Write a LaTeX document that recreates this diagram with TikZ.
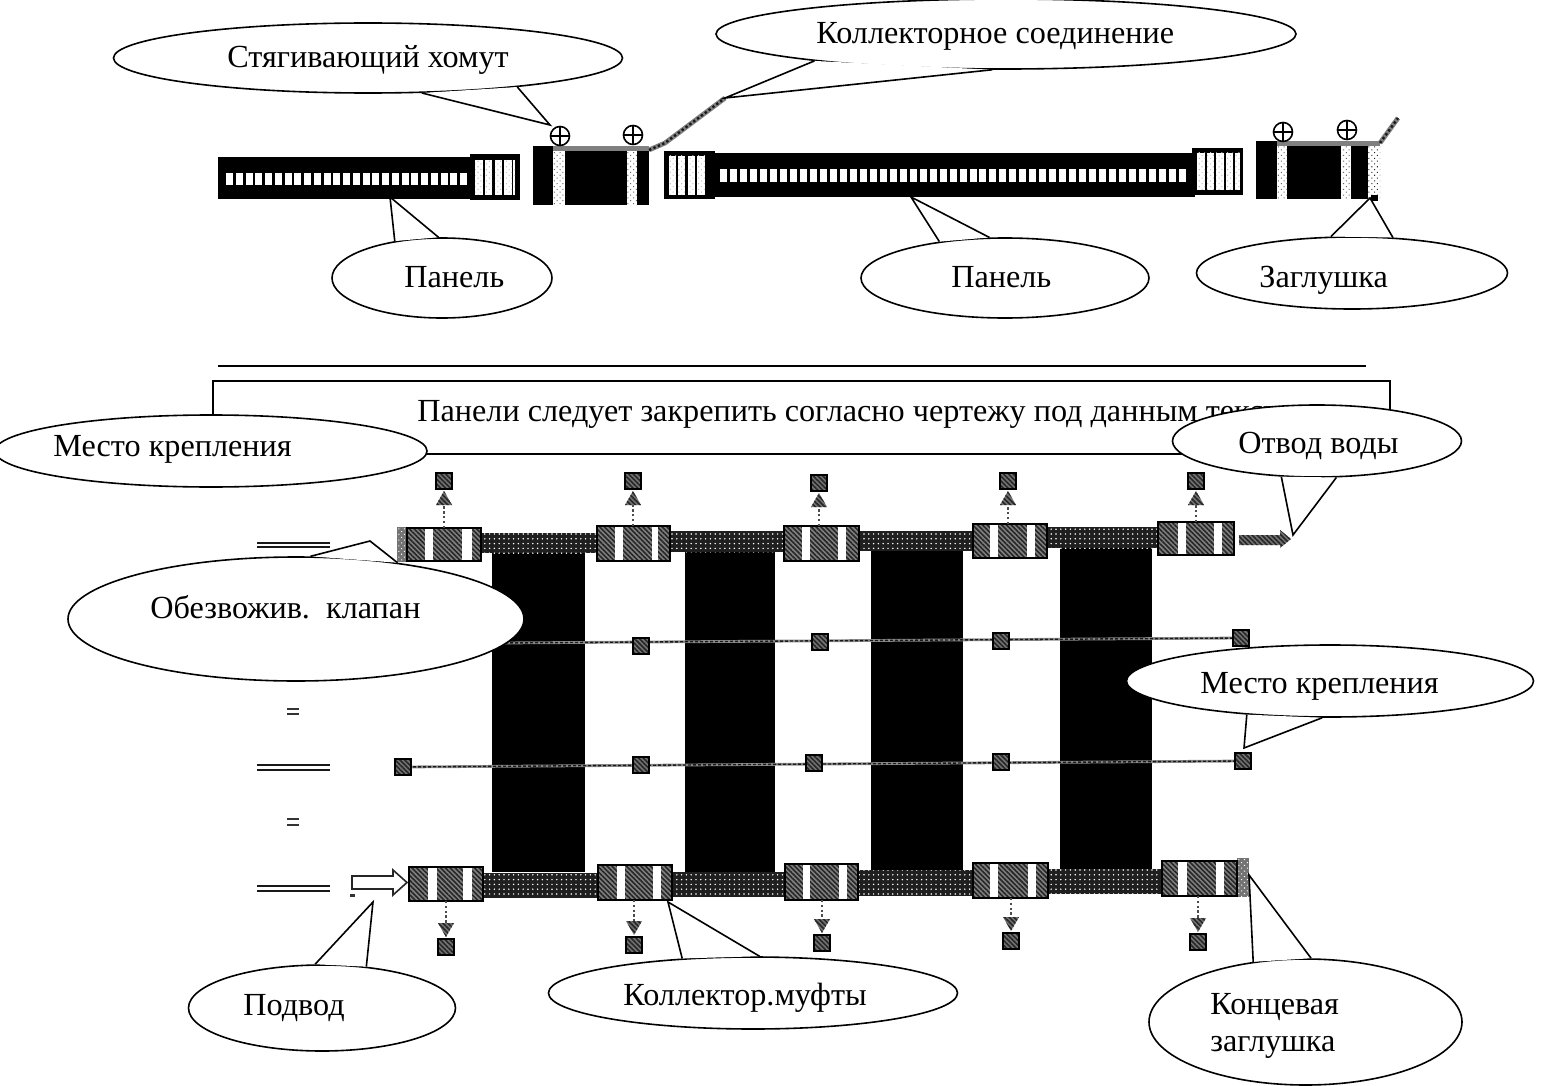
\documentclass[tikz,border=0pt]{standalone}
\usepackage{fontspec}
\setmainfont{Liberation Serif}
\usetikzlibrary{patterns.meta,shapes.geometric,calc}
\tikzset{
  txt/.style={anchor=base west,inner sep=0pt,font=\fontsize{16.1pt}{18pt}\selectfont},
  bubble/.style={draw=black,fill=white,ellipse,inner sep=0pt,line width=.8pt},
  tail/.style={line width=.8pt,line join=miter},
  hatchfill/.style={pattern={Lines[angle=-45,distance=1.7pt,line width=.8pt]},pattern color=black!85},
  pipefill/.style={pattern={Dots[distance=2.4pt,radius=.42pt]},pattern color=white},
  stipple/.style={pattern={Dots[distance=2pt,radius=.36pt,angle=45]},pattern color=black!60},
  sqbox/.style={draw=black,line width=.6pt,minimum size=8pt,inner sep=0pt,
    path picture={\fill[black!55] (path picture bounding box.south west) rectangle (path picture bounding box.north east);
      \fill[hatchfill] (path picture bounding box.south west) rectangle (path picture bounding box.north east);}},
  crossline/.style={line width=1.4pt,draw=black!45},
  crosswave/.style={line width=.7pt,draw=black!90,dash pattern=on 1.6pt off .9pt},
  hose/.style={line width=2.4pt,draw=black!50},
  hosewave/.style={line width=1.2pt,draw=black!90,dash pattern=on 1.2pt off 1.2pt},
  thinrule/.style={line width=.55pt,draw=black},
  dimline/.style={line width=1.2pt,draw=black!90},
  dashconn/.style={line width=.6pt,draw=black!70,dash pattern=on 1.2pt off 1.2pt},
  screw/.style={draw=black,line width=.8pt,fill=white,circle,minimum size=9.5pt,inner sep=0pt},
}
% name, centre, width, height, tip, angle 1, angle 2
\newcommand{\bubblecall}[7]{%
  \node[bubble,minimum width=#3*.5pt,minimum height=#4*.5pt] (#1) at (#2) {};
  \coordinate (#1tip) at (#5);
  \fill[white] (#1.#6) -- (#1tip) -- (#1.#7) -- cycle;
  \draw[tail] (#1.#6) -- (#1tip) -- (#1.#7);
}
% x1 x2 y1 y2 bars
\newcommand{\clampbox}[8]{%
  \fill[black!50] (#1,#3) rectangle (#2,#4);
  \fill[hatchfill] (#1,#3) rectangle (#2,#4);
  \fill[white] (#5,#3+1) rectangle (#6,#4-1);
  \fill[white] (#7,#3+1) rectangle (#8,#4-1);
  \draw[line width=.6pt] (#1,#3) rectangle (#2,#4);
}
\newcommand{\pipeseg}[4]{%
  \fill[black!88] (#1,#3) rectangle (#2,#4);
  \fill[pipefill] (#1,#3) rectangle (#2,#4);
}
\newcommand{\whitebars}[3]{%
  \foreach \a/\b in {#3} {\fill[white] (\a,#1) rectangle (\b,#2);\fill[stipple,pattern color=black!25] (\a,#1) rectangle (\b,#2);}
}
\newcommand{\screwhead}[3]{%
  \node[screw] (#1) at (#2,#3) {};
  \draw[line width=.7pt] (#1.west) -- (#1.east) (#1.north) -- (#1.south);
}
\begin{document}
\begin{tikzpicture}[x=.5pt,y=-.5pt]
\useasboundingbox (0,0) rectangle (1543,1086);
\fill[white] (0,0) rectangle (1543,1086);

% --- upper drawing: left panel
\fill[black] (218,157) rectangle (472,199);
\fill[black] (470,154) rectangle (520,200);
\foreach \i in {0,...,24} {\fill[white] ({226+\i*9.75},173) rectangle ({233+\i*9.75},185);}
\whitebars{160}{195}{475/483,485/492,495/502,504/512,513/515}

% --- upper drawing: first connector
\fill[black] (533,146) rectangle (649,205);
\fill[white] (553,150) rectangle (565,205);
\fill[stipple] (553,150) rectangle (565,205);
\fill[white] (627,150) rectangle (637,205);
\fill[stipple] (627,150) rectangle (637,205);
\fill[black!50] (553,146) rectangle (649,151);
\screwhead{sa}{560}{136}
\screwhead{sb}{633}{135}
\coordinate (hosea) at (649,150);
\coordinate (hoseb) at (665,143);
\coordinate (hosec) at (725,98);
\draw[hose] (hosea) -- (hoseb) -- (hosec);
\draw[hosewave] (hosea) -- (hoseb) -- (hosec);

% --- upper drawing: long panel
\fill[black] (664,151) rectangle (715,199);
\whitebars{156}{195}{669/676,678/685,688/695,697/705}
\fill[black] (708,153) rectangle (1195,197);
\foreach \i in {0,...,46} {\fill[white] ({720+\i*9.98},169.5) rectangle ({727+\i*9.98},182);}
\fill[black] (1192,148) rectangle (1243,195);
\whitebars{153}{190}{1197/1205,1207/1214,1216/1224,1226/1233,1235/1240}

% --- upper drawing: end connector
\fill[black] (1256,141) rectangle (1369,199);
\fill[white] (1277,146) rectangle (1287,199);
\fill[stipple] (1277,146) rectangle (1287,199);
\fill[white] (1341,146) rectangle (1351,199);
\fill[stipple] (1341,146) rectangle (1351,199);
\fill[white] (1368,145) rectangle (1380,199);
\fill[stipple,pattern color=black!85] (1368,145) rectangle (1380,199);
\fill[black!50] (1277,141) rectangle (1380,146);
\fill[black] (1371,195) rectangle (1378,201);
\screwhead{sc}{1283}{132}
\screwhead{sd}{1347}{130}
\coordinate (hosed) at (1380,143);
\coordinate (hosee) at (1398,118);
\draw[hose] (hosed) -- (hosee);
\draw[hosewave] (hosed) -- (hosee);

% --- rules and text frame
\coordinate (rulea) at (218,366);
\coordinate (ruleb) at (1366,366);
\draw[thinrule] (rulea) -- (ruleb);
\draw[thinrule,line width=.65pt] (213,381) rectangle (1390,454);
\node[txt] (notice) at (417,421) {Панели следует закрепить согласно чертежу под данным текстом};

% --- lower plan: black panels
\foreach \a/\b in {492/585,685/775,871/963,1060/1152} {\fill[black] (\a,548) rectangle (\b,872);}

% --- pipes
\pipeseg{481}{597}{533}{553}
\pipeseg{670}{784}{531}{552}
\pipeseg{859}{973}{531}{551}
\pipeseg{1047}{1159}{527}{548}
\pipeseg{483}{598}{873}{898}
\pipeseg{672}{785}{872}{897}
\pipeseg{858}{973}{870}{896}
\pipeseg{1048}{1162}{869}{894}

% --- end stipple pieces
\fill[black!55] (397,527) rectangle (407,562);
\fill[stipple,pattern color=white] (397,527) rectangle (407,562);
\fill[black!55] (1237,858) rectangle (1249,897);
\fill[stipple,pattern color=white] (1237,858) rectangle (1249,897);

% --- clamps
\clampbox{407}{481}{528}{561}{425}{433}{462}{472}
\clampbox{597}{670}{526}{561}{615}{623}{652}{658}
\clampbox{784}{859}{526}{561}{802}{810}{838}{846}
\clampbox{973}{1047}{524}{558}{990}{998}{1027}{1035}
\clampbox{1158}{1234}{522}{555}{1178}{1186}{1214}{1222}
\clampbox{409}{483}{867}{901}{428}{437}{463}{472}
\clampbox{598}{672}{865}{900}{617}{625}{653}{661}
\clampbox{785}{858}{864}{900}{803}{810}{839}{847}
\clampbox{973}{1048}{863}{898}{990}{998}{1028}{1036}
\clampbox{1162}{1237}{861}{896}{1178}{1187}{1216}{1224}

% --- fixings above and below
\foreach \n/\x/\s/\c in {ta/444/481/528,tb/633/481/526,tc/819/483/526,td/1008/481/524,te/1196/481/522} {
  \node[sqbox] (\n) at (\x,\s) {};
  \fill[black!55] (\x,\s+10) -- (\x+8,\s+24) -- (\x-8,\s+24) -- cycle;
  \fill[hatchfill] (\x,\s+10) -- (\x+8,\s+24) -- (\x-8,\s+24) -- cycle;
  \coordinate (\n c) at (\x,\c);
  \draw[dashconn] (\n c) -- (\x,\s+24);
}
\foreach \n/\x/\s/\c in {ba/446/947/901,bb/634/945/900,bc/822/943/900,bd/1011/941/898,be/1198/942/896} {
  \node[sqbox] (\n) at (\x,\s) {};
  \fill[black!55] (\x,\s-10) -- (\x+8,\s-24) -- (\x-8,\s-24) -- cycle;
  \fill[hatchfill] (\x,\s-10) -- (\x+8,\s-24) -- (\x-8,\s-24) -- cycle;
  \coordinate (\n c) at (\x,\c);
  \draw[dashconn] (\n c) -- (\x,\s-24);
}

% --- cross lines
\coordinate (lineastart) at (500,643);
\coordinate (lineaend) at (1241,638);
\draw[crossline] (lineastart) -- (lineaend);
\draw[crosswave] (lineastart) -- (lineaend);
\node[sqbox] (lb) at (641,646) {};
\node[sqbox] (lc) at (820,642) {};
\node[sqbox] (ld) at (1001,641) {};
\node[sqbox] (le) at (1241,638) {};
\coordinate (linebstart) at (403,767);
\coordinate (linebend) at (1243,761);
\draw[crossline] (linebstart) -- (linebend);
\draw[crosswave] (linebstart) -- (linebend);
\node[sqbox] (ma) at (403,767) {};
\node[sqbox] (mf) at (1243,761) {};
\node[sqbox] (mb) at (641,765) {};
\node[sqbox] (mc) at (814,763) {};
\node[sqbox] (md) at (1001,762) {};

% --- outlet and inlet arrows
\fill[black!55] (1239,535) -- (1280,535) -- (1280,530) -- (1291,539) -- (1280,548) -- (1280,545) -- (1239,545) -- cycle;
\fill[hatchfill] (1239,535) -- (1280,535) -- (1280,530) -- (1291,539) -- (1280,548) -- (1280,545) -- (1239,545) -- cycle;
\draw[line width=.8pt,draw=black!85,fill=white] (352,876) -- (393,876) -- (393,870) -- (407,882.5) -- (393,895) -- (393,889) -- (352,889) -- cycle;
\fill[black!80] (350,894) rectangle (355,897);

% --- dimension marks
\foreach \y in {543,547,765,770,886,891} {\draw[dimline] (257,\y) -- (330,\y);}
\foreach \y in {709,714,819,825} {\draw[line width=.9pt,draw=black!80] (287,\y) -- (299,\y);}

% --- callouts
\bubblecall{hom}{368,58}{509}{70}{550,125}{-33.2}{-11.8}
\node[txt] (homt) at (227,68) {Стягивающий хомут};
\bubblecall{kol}{1006,34}{580}{70}{725,98}{188.4}{-111.6}
\node[txt] (kolt) at (816,44) {Коллекторное соединение};
\bubblecall{pana}{442,278}{220}{80}{390,197}{142.5}{95}
\node[txt] (panat) at (404,287) {Панель};
\bubblecall{panb}{1005,278}{288}{80}{911,197}{151.4}{111.8}
\node[txt] (panbt) at (951,287) {Панель};
\bubblecall{zag}{1352,273}{311}{72}{1370,198}{120.3}{41.9}
\node[txt] (zagt) at (1259,287) {Заглушка};
\node[bubble,minimum width=216pt,minimum height=36pt] (mesa) at (211,451) {};
\node[txt] (mesat) at (53,456) {Место крепления};
\bubblecall{otv}{1317,441}{289}{72}{1293,535}{-135.8}{-62.2}
\node[txt] (otvt) at (1238,453) {Отвод воды};
\bubblecall{obe}{296,619}{456}{124}{370,541}{77}{29.6}
\node[txt] (obet) at (150,618) {Обезвожив.\ \ клапан};
\bubblecall{mesb}{1330,681}{407}{72}{1244,748}{-158.3}{-102.5}
\node[txt] (mesbt) at (1200,693) {Место крепления};
\bubblecall{pod}{322,1008}{267}{86}{373,902}{99.5}{43.6}
\node[txt] (podt) at (243,1015) {Подвод};
\bubblecall{muf}{753,993}{409}{72}{668,902}{154.4}{80.5}
\node[txt] (muft) at (623,1005) {Коллектор.муфты};
\bubblecall{kon}{1305.5,1022}{313}{126}{1249,875}{131.3}{85}
\node[txt] (kont) at (1210,1014) {Концевая};
\node[txt] (kontb) at (1210,1051) {заглушка};
\end{tikzpicture}
\end{document}
